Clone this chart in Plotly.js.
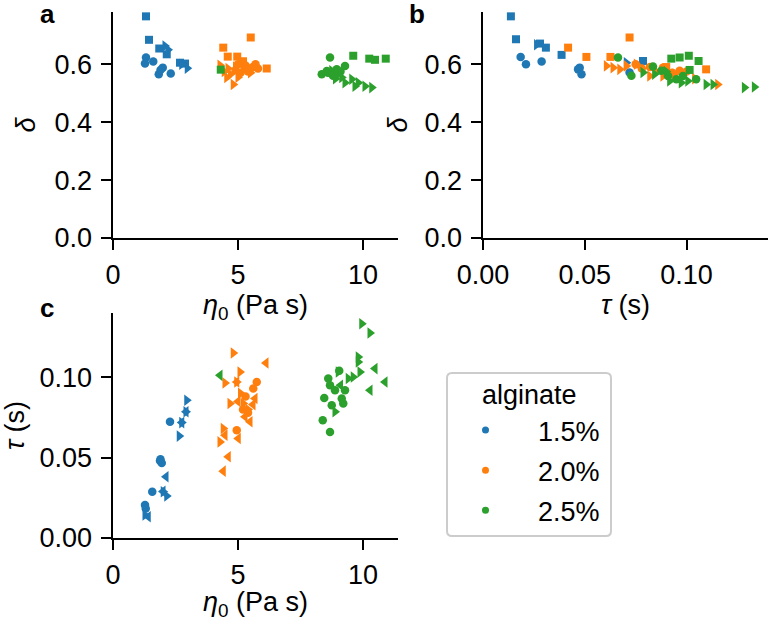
<!DOCTYPE html>
<html>
<head>
<meta charset="utf-8">
<script src="https://cdn.plot.ly/plotly-3.0.1.min.js"></script>
<style>html,body{margin:0;padding:0;background:#fff}#chart{width:770px;height:621px}</style>
</head>
<body>
<div id="chart"></div>
<script>
// ---------------- DATA ----------------
const seriesNames = ['1.5%', '2.0%', '2.5%'];
const legendTitle = 'alginate';

// Panel a: delta vs eta0   (kind: o / s / > / <)
const aBlueX = [1.32,1.44,1.85,2.15,2.68,2.88, 1.32,1.28,1.61,1.99,1.83,2.31,1.90, 2.08,2.97,2.75,2.20];
const aBlueY = [0.765,0.684,0.654,0.634,0.605,0.602, 0.623,0.602,0.609,0.588,0.565,0.568,0.580, 0.663,0.586,0.600,0.650];
const aBlueK = ['s','s','s','s','s','s','o','o','o','o','o','o','o','>','>','>','>'];

const aOrangeX = [4.41,5.51,4.59,4.97,6.15,5.20, 5.00,5.30,5.60,5.80,4.90,5.40,5.10,5.70,5.50, 4.28,4.81,4.55,4.45,4.70,5.00,4.90,5.20,5.50,5.30,4.60];
const aOrangeY = [0.657,0.692,0.626,0.626,0.585,0.610, 0.600,0.595,0.590,0.585,0.580,0.575,0.570,0.600,0.585, 0.596,0.530,0.554,0.575,0.565,0.555,0.590,0.580,0.570,0.595,0.585];
const aOrangeK = ['s','s','s','s','s','s','o','o','o','o','o','o','o','o','o','>','>','>','>','>','>','>','>','>','>','>'];

const aGreenX = [4.31,9.61,10.25,10.48,10.91, 8.68,8.35,8.55,9.28,8.95,8.60,9.10,8.80, 8.75,9.15,9.55,9.81,10.08,10.35,9.68,9.28,9.00,8.90];
const aGreenY = [0.581,0.629,0.619,0.615,0.619, 0.623,0.565,0.576,0.594,0.582,0.570,0.575,0.560, 0.577,0.554,0.548,0.536,0.524,0.519,0.524,0.536,0.565,0.550];
const aGreenK = ['s','s','s','s','s','o','o','o','o','o','o','o','o','>','>','>','>','>','>','>','>','>','>'];

// Panel b: delta vs tau
const bBlueX = [0.0137,0.0162,0.0280,0.0309,0.0386,0.0786, 0.0185,0.0211,0.0288,0.0475,0.0467,0.0484,0.0720, 0.0263,0.0704];
const bBlueY = [0.765,0.686,0.671,0.657,0.632,0.611, 0.625,0.600,0.609,0.588,0.582,0.565,0.571, 0.667,0.605];
const bBlueK = ['s','s','s','s','s','s','o','o','o','o','o','o','o','>','>'];

const bOrangeX = [0.0418,0.0508,0.0720,0.0626,0.1096,0.0900, 0.0884,0.0966,0.0750,0.0820,0.0930,0.1000,0.0780, 0.0606,0.0639,0.0672,0.0704,0.0753,0.0819,0.0884,0.1153,0.0940,0.0850,0.1040];
const bOrangeY = [0.657,0.625,0.692,0.625,0.582,0.590, 0.588,0.577,0.600,0.590,0.570,0.575,0.585, 0.594,0.588,0.582,0.594,0.600,0.559,0.559,0.530,0.565,0.575,0.550];
const bOrangeK = ['s','s','s','s','s','s','o','o','o','o','o','o','o','>','>','>','>','>','>','>','>','>','>','>'];

const bGreenX = [0.0925,0.0966,0.1011,0.1059,0.1015, 0.0663,0.0729,0.0835,0.0876,0.0909,0.0982,0.1047,0.0950, 0.0786,0.0843,0.0917,0.0974,0.1006,0.1096,0.1130,0.1284,0.1333,0.0900];
const bGreenY = [0.619,0.623,0.629,0.611,0.580, 0.623,0.560,0.592,0.577,0.559,0.559,0.548,0.548, 0.571,0.565,0.542,0.536,0.542,0.530,0.530,0.519,0.521,0.575];
const bGreenK = ['s','s','s','s','s','o','o','o','o','o','o','o','o','>','>','>','>','>','>','>','>','>','>'];

// Panel c: tau vs eta0
const cBlueX = [2.28,1.88,1.95,1.90,1.57,1.28,1.31, 2.95,2.92,2.75,2.65,2.01,2.15,1.28, 2.92,2.75,2.12,2.00,1.41];
const cBlueY = [0.0723,0.0480,0.0466,0.0490,0.0288,0.0205,0.0184, 0.0857,0.0785,0.0718,0.0634,0.0288,0.0261,0.0143, 0.0785,0.0718,0.0381,0.0290,0.0132];
const cBlueK = ['o','o','o','o','o','o','o','>','>','>','>','>','>','>','<','<','<','<','<'];

const cOrangeX = [5.75,5.61,4.95,5.30,5.20,5.40, 4.81,5.08,4.48,4.95,4.68,5.21,4.41,4.28,5.10,5.40, 6.12,4.95,5.68,5.28,5.48,5.01,4.61,4.41,4.48,5.60,5.00];
const cOrangeY = [0.0971,0.0930,0.0671,0.0880,0.0800,0.0780, 0.1151,0.1033,0.0965,0.0971,0.0837,0.0837,0.0681,0.0598,0.0900,0.0800, 0.1089,0.0971,0.0868,0.0754,0.0723,0.0619,0.0505,0.0416,0.0640,0.0830,0.0850];
const cOrangeK = ['o','o','o','o','o','o','>','>','>','>','>','>','>','>','>','>','<','<','<','<','<','<','<','<','<','<','<'];

const cGreenX = [8.61,8.68,8.88,9.28,8.45,9.15,8.75,9.21,8.39,8.68,9.05, 9.95,10.28,9.81,9.81,9.88,9.01,9.41,9.61,8.88, 4.28,10.48,10.88,10.28,9.10];
const cGreenY = [0.0992,0.0950,0.0919,0.0919,0.0871,0.0868,0.0826,0.0837,0.0733,0.0660,0.1040, 0.1333,0.1275,0.1126,0.1095,0.1033,0.1033,0.0992,0.1002,0.0785, 0.1012,0.1054,0.0971,0.0919,0.0950];
const cGreenK = ['o','o','o','o','o','o','o','o','o','o','o','>','>','>','>','>','>','>','>','>','<','<','<','<','<'];

// Tick values
const etaTicks = [0, 5, 10];
const deltaTicks = [0, 0.2, 0.4, 0.6];
const tauTicks = [0, 0.05, 0.10];

// ---------------- STYLE ----------------
const W = 770, H = 621;
const FONT = 'Liberation Sans, Arial, sans-serif';
const FS = 27;
const colors = ['#1f77b4', '#ff7f0e', '#2ca02c'];
const symbolOf = {o: 'circle', s: 'square', '>': 'triangle-right', '<': 'triangle-left'};
const sizeOf = {o: 8.5, s: 8, '>': 10, '<': 10};

function px2fx(a, b) { return [a / W, b / W]; }
function py2fy(top, bottom) { return [(H - bottom) / H, (H - top) / H]; }

const traces = [];
function addPanel(xs, ys, ks, color, xa, ya) {
  ['s', 'o', '>', '<'].forEach(k => {
    const X = [], Y = [];
    ks.forEach((kk, i) => { if (kk === k) { X.push(xs[i]); Y.push(ys[i]); } });
    if (!X.length) return;
    traces.push({
      type: 'scatter', mode: 'markers', x: X, y: Y, xaxis: xa, yaxis: ya,
      showlegend: false, hoverinfo: 'x+y', cliponaxis: false,
      marker: {color: color, symbol: symbolOf[k], size: sizeOf[k], line: {width: 0}}
    });
  });
}
addPanel(aBlueX, aBlueY, aBlueK, colors[0], 'x', 'y');
addPanel(aOrangeX, aOrangeY, aOrangeK, colors[1], 'x', 'y');
addPanel(aGreenX, aGreenY, aGreenK, colors[2], 'x', 'y');
addPanel(bBlueX, bBlueY, bBlueK, colors[0], 'x2', 'y2');
addPanel(bOrangeX, bOrangeY, bOrangeK, colors[1], 'x2', 'y2');
addPanel(bGreenX, bGreenY, bGreenK, colors[2], 'x2', 'y2');
addPanel(cBlueX, cBlueY, cBlueK, colors[0], 'x3', 'y3');
addPanel(cOrangeX, cOrangeY, cOrangeK, colors[1], 'x3', 'y3');
addPanel(cGreenX, cGreenY, cGreenK, colors[2], 'x3', 'y3');

// legend entries
seriesNames.forEach((n, i) => traces.push({
  type: 'scatter', mode: 'markers', x: [null], y: [null], xaxis: 'x3', yaxis: 'y3',
  name: n, legendgroup: 'g' + i, showlegend: true,
  marker: {color: colors[i], size: 7, symbol: 'circle'}
}));

const axCommon = {
  showline: true, linecolor: '#000', linewidth: 2.1, mirror: false,
  ticks: 'outside', ticklen: 9.5, tickwidth: 2.1, tickcolor: '#000',
  showgrid: false, zeroline: false, tickfont: {family: FONT, size: FS, color: '#000'},
  fixedrange: true, automargin: false
};
const titleFont = {family: FONT, size: FS, color: '#000'};

const layout = {
  width: W, height: H, margin: {l: 0, r: 0, t: 0, b: 0},
  paper_bgcolor: '#fff', plot_bgcolor: 'rgba(0,0,0,0)',
  font: {family: FONT, size: FS, color: '#000'},
  xaxis: Object.assign({}, axCommon, {domain: px2fx(113, 398), range: [0, 11.4], anchor: 'y',
    tickvals: etaTicks, ticklabelstandoff: 2, title: {text: '<i>η</i><sub>0</sub> (Pa s)', font: titleFont, standoff: 5}}),
  yaxis: Object.assign({}, axCommon, {domain: py2fy(12, 238), range: [0, 0.78], anchor: 'x',
    tickvals: deltaTicks, tickformat: '.1f', ticklabelstandoff: 4, title: {text: '<i>δ</i>', font: titleFont, standoff: 11}}),
  xaxis2: Object.assign({}, axCommon, {domain: px2fx(483, 768), range: [0, 0.14], anchor: 'y2',
    tickvals: tauTicks, tickformat: '.2f', ticklabelstandoff: 2, title: {text: '<i>τ</i> (s)', font: titleFont, standoff: 5}}),
  yaxis2: Object.assign({}, axCommon, {domain: py2fy(12, 238), range: [0, 0.78], anchor: 'x2',
    tickvals: deltaTicks, tickformat: '.1f', ticklabelstandoff: 4, title: {text: '<i>δ</i>', font: titleFont, standoff: 9}}),
  xaxis3: Object.assign({}, axCommon, {domain: px2fx(113, 398), range: [0, 11.4], anchor: 'y3',
    tickvals: etaTicks, ticklabelstandoff: 2, title: {text: '<i>η</i><sub>0</sub> (Pa s)', font: titleFont, standoff: 5}}),
  yaxis3: Object.assign({}, axCommon, {domain: py2fy(313, 538), range: [0, 0.14], anchor: 'x3',
    tickvals: tauTicks, tickformat: '.2f', ticklabelstandoff: 4, title: {text: '<i>τ</i> (s)', font: titleFont, standoff: 10}}),
  showlegend: true,
  legend: {
    x: 433 / W, y: (H - 406) / H, xanchor: 'left', yanchor: 'top',
    bgcolor: 'rgba(0,0,0,0)', borderwidth: 0,
    font: {family: FONT, size: FS, color: '#000'},
    traceorder: 'grouped', tracegroupgap: 2, itemwidth: 95, itemclick: false
  },
  shapes: [{
    type: 'path', xref: 'paper', yref: 'paper', layer: 'below',
    path: (function () {
      const x0 = 447, x1 = 611, y0 = 373, y1 = 536, r = 5;
      const fx = v => (v / W).toFixed(5), fy = v => ((H - v) / H).toFixed(5);
      return 'M' + fx(x0 + r) + ',' + fy(y0) + ' L' + fx(x1 - r) + ',' + fy(y0) +
        ' Q' + fx(x1) + ',' + fy(y0) + ' ' + fx(x1) + ',' + fy(y0 + r) +
        ' L' + fx(x1) + ',' + fy(y1 - r) + ' Q' + fx(x1) + ',' + fy(y1) + ' ' + fx(x1 - r) + ',' + fy(y1) +
        ' L' + fx(x0 + r) + ',' + fy(y1) + ' Q' + fx(x0) + ',' + fy(y1) + ' ' + fx(x0) + ',' + fy(y1 - r) +
        ' L' + fx(x0) + ',' + fy(y0 + r) + ' Q' + fx(x0) + ',' + fy(y0) + ' ' + fx(x0 + r) + ',' + fy(y0) + ' Z';
    })(),
    line: {color: '#cccccc', width: 2}, fillcolor: 'rgba(255,255,255,0.8)'
  }],
  annotations: [
    {text: '<b>a</b>', x: 47 / W, y: (H - 14) / H},
    {text: '<b>b</b>', x: 417 / W, y: (H - 14) / H},
    {text: '<b>c</b>', x: 47 / W, y: (H - 308) / H},
    {text: legendTitle, x: 529 / W, y: (H - 395) / H, font: {family: FONT, size: FS, color: '#000'}}
  ].map(a => Object.assign({xref: 'paper', yref: 'paper', showarrow: false, xanchor: 'center', yanchor: 'middle',
    font: {family: FONT, size: 26, color: '#000'}}, a))
};

Plotly.newPlot('chart', traces, layout, {displayModeBar: false, staticPlot: true});
</script>
</body>
</html>
